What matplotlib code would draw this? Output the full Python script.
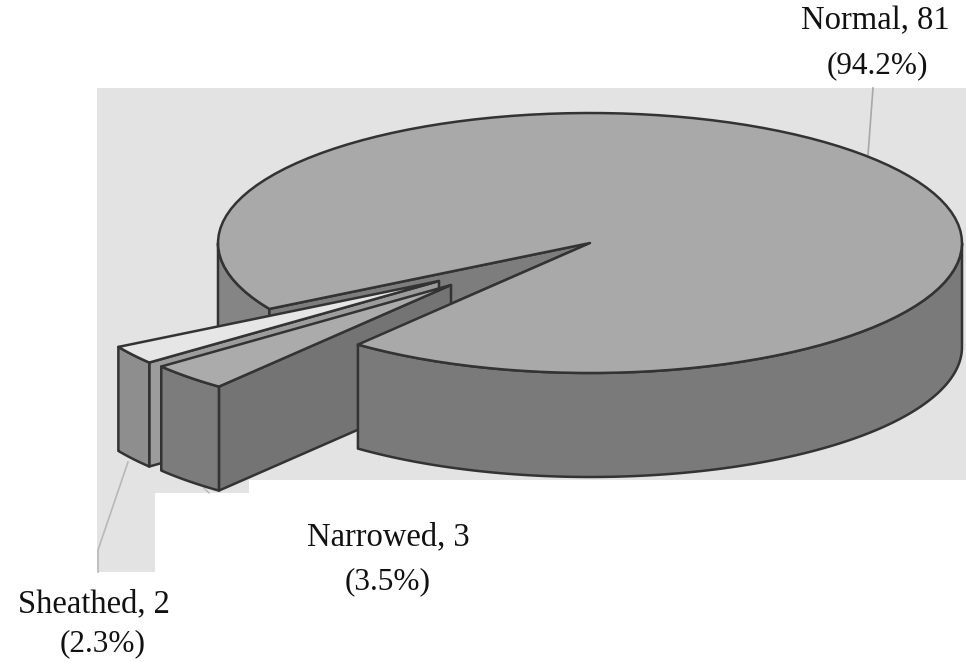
#!/usr/bin/env python3
import numpy as np
import matplotlib
matplotlib.use('Agg')
import matplotlib.pyplot as plt
from matplotlib.patches import Polygon, Rectangle

categories = ['Normal', 'Narrowed', 'Sheathed']
counts = [81, 3, 2]
percents = ['94.2%', '3.5%', '2.3%']

# pie geometry, in image pixels
CX, CY = 590, 243
RX, RY = 372, 130
DEPTH = 104
START = 128.6  # where Narrowed begins, clockwise on screen from 3 o'clock
SHIFT = {'Narrowed': (-139, 42), 'Sheathed': (-151, 38), 'Normal': (0, 0)}

OUTLINE = '#333333'
LW = 1.8

plt.rcParams['font.family'] = ['Liberation Serif', 'DejaVu Serif']

fig = plt.figure(figsize=(9.66, 6.62), dpi=100)
ax = fig.add_axes([0, 0, 1, 1])
ax.set_xlim(0, 966)
ax.set_ylim(662, 0)
ax.axis('off')


def rim(t0, t1, dx=0, dy=0, drop=0):
    t = np.radians(np.linspace(t0, t1, 120))
    return np.column_stack([CX + dx + RX * np.cos(t), CY + dy + drop + RY * np.sin(t)])


def poly(pts, color, z):
    ax.add_patch(Polygon(pts, closed=True, fc=color, ec=OUTLINE, lw=LW, joinstyle='round', zorder=z))


def wedge(t0, t1, dx, dy, top, front, side, z):
    tip = np.array([[CX + dx, CY + dy]])
    arc = rim(t0, t1, dx, dy)
    low = rim(t1, t0, dx, dy, DEPTH)
    # inner wall on the t0 side, outer wall, then the top face
    poly(np.vstack([tip, arc[:1], low[-1:], tip + [0, DEPTH]]), side, z)
    poly(np.vstack([arc, low]), front, z + 0.1)
    poly(np.vstack([tip, arc]), top, z + 0.2)


# scanned page behind the chart
for x, y, w, h in [(97, 88, 869, 392), (97, 480, 152, 13), (97, 493, 58, 79)]:
    ax.add_patch(Rectangle((x, y), w, h, fc='#e3e3e3', ec='none', zorder=1))
ax.plot([873, 868], [88, 155], color='#a8a8a8', lw=1.2, zorder=2)
ax.plot([128, 98, 98], [462, 550, 572], color='#b8b8b8', lw=1.2, zorder=2)
ax.plot([204, 209], [488, 493], color='#b8b8b8', lw=1.0, zorder=2)

sweeps = [c / sum(counts) * 360 for c in counts]
t_narrow_end = START + sweeps[1]
t_sheath_end = t_narrow_end + sweeps[2]
t_normal_start = t_sheath_end
t_normal_end = t_normal_start + sweeps[0]

# back part of the main slice: left wall and the cut it leaves
poly(np.vstack([rim(t_normal_start, 180), rim(180, t_normal_start, drop=DEPTH)]), '#858585', 3)
cut = rim(t_normal_start, t_normal_start + 0.01)
poly([(CX, CY), cut[0], cut[0] + [0, DEPTH], (CX, CY + DEPTH), (CX, CY)], '#7d7d7d', 3.2)
end = rim(START, START + 0.01)
poly([(CX, CY), cut[0], cut[0] + [0, 30], end[0]], '#7d7d7d', 3.3)

# exploded slices, the further one first
dx, dy = SHIFT['Sheathed']
wedge(t_narrow_end, t_sheath_end, dx, dy, '#e6e6e6', '#8e8e8e', '#9c9c9c', 4)
dx, dy = SHIFT['Narrowed']
wedge(START, t_narrow_end, dx, dy, '#ababab', '#7c7c7c', '#747474', 5)

# main slice in front of them
poly(np.vstack([rim(0, START), rim(START, 0, drop=DEPTH)]), '#7a7a7a', 6)
poly(np.vstack([[(CX, CY)], rim(t_normal_start, t_normal_end)]), '#a9a9a9', 7)

# name x, name y, percent x, percent y
label_pos = {'Normal': (875, 21, 877, 66), 'Narrowed': (388, 537, 388, 582), 'Sheathed': (94, 604, 103, 644)}
for name, n, pct in zip(categories, counts, percents):
    x1, y1, x2, y2 = label_pos[name]
    ax.text(x1, y1, f'{name}, {n}', ha='center', va='center', fontsize=23.5, color='#111111', zorder=9)
    ax.text(x2, y2, f'({pct})', ha='center', va='center', fontsize=22.5, color='#111111', zorder=9)

fig.savefig('out.png', dpi=100, facecolor='white')
